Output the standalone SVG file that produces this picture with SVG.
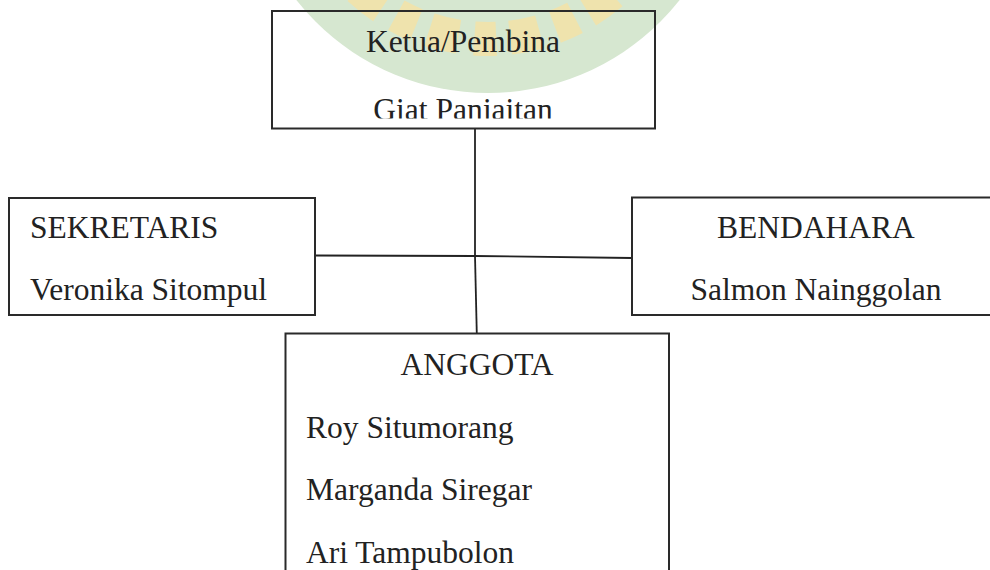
<svg xmlns="http://www.w3.org/2000/svg" width="990" height="570" viewBox="0 0 990 570">
  <style>
    .box { fill: none; stroke: #2a2a2a; stroke-width: 2; }
    .t { font-family: "Liberation Serif", "Times New Roman", serif; font-size: 31.5px; fill: #222; }
    .m { text-anchor: middle; }
    .conn { stroke: #222; stroke-width: 1.8; fill: none; }
  </style>
  <defs>
    <clipPath id="clipTop"><rect x="272" y="11" width="383" height="107.5"/></clipPath>
  </defs>
  <rect width="990" height="570" fill="#fff"/>
  <g id="watermark">
    <circle cx="488" cy="-151" r="244" fill="#d6e7d0"/>
    <circle cx="488" cy="-151" r="190" fill="none" stroke="#efe3ad" stroke-width="34" stroke-dasharray="30 14 22 16"/>
  </g>
  <g id="connectors">
    <line class="conn" x1="475" y1="129" x2="475" y2="256"/>
    <line class="conn" x1="475" y1="256" x2="476.8" y2="334"/>
    <line class="conn" x1="315" y1="255.5" x2="475" y2="256"/>
    <line class="conn" x1="475" y1="256" x2="632" y2="258"/>
  </g>
  <g id="ketua">
    <rect class="box" x="272" y="11" width="383" height="117.5"/>
    <text class="t m" x="463" y="52" fill="#111">Ketua/Pembina</text>
    <text class="t m" x="463" y="120" clip-path="url(#clipTop)">Giat Panjaitan</text>
  </g>
  <g id="sekretaris">
    <rect class="box" x="9" y="198" width="306" height="117"/>
    <text class="t" x="30" y="238">SEKRETARIS</text>
    <text class="t" x="30" y="300">Veronika Sitompul</text>
  </g>
  <g id="bendahara">
    <rect class="box" x="632" y="197.5" width="370" height="117.5"/>
    <text class="t m" x="816" y="238">BENDAHARA</text>
    <text class="t m" x="816" y="300">Salmon Nainggolan</text>
  </g>
  <g id="anggota">
    <rect class="box" x="285.5" y="333.5" width="383.5" height="250"/>
    <text class="t m" x="477" y="375">ANGGOTA</text>
    <text class="t" x="306" y="438">Roy Situmorang</text>
    <text class="t" x="306" y="500">Marganda Siregar</text>
    <text class="t" x="306" y="563">Ari Tampubolon</text>
  </g>
</svg>
